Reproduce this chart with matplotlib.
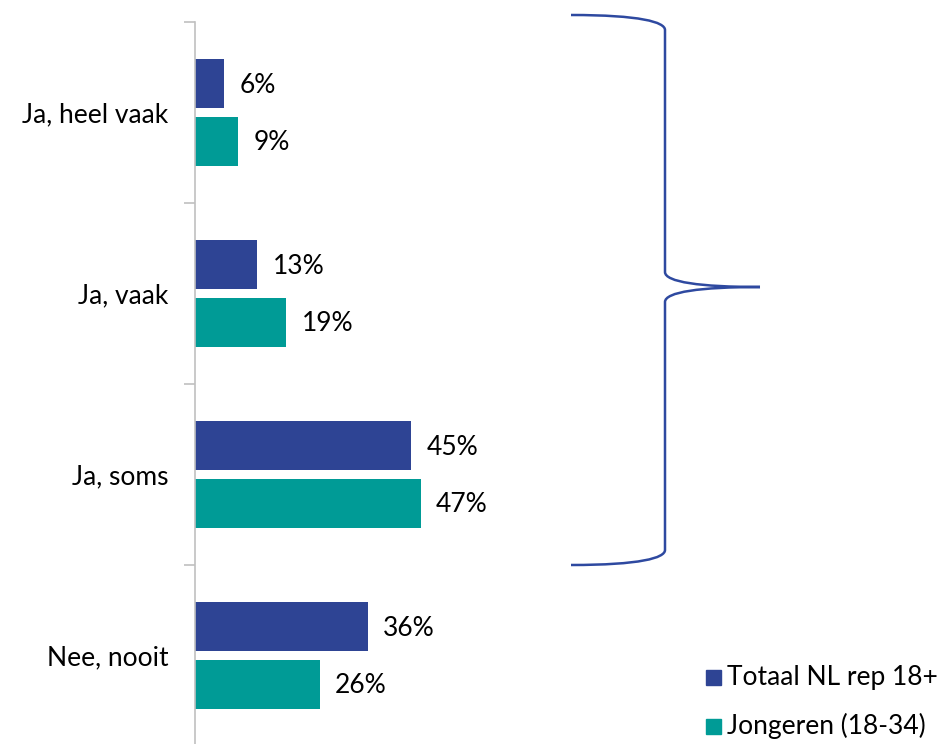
import numpy as np
import matplotlib.pyplot as plt
from matplotlib.path import Path
from matplotlib.patches import PathPatch, Rectangle

categories = ["Ja, heel vaak", "Ja, vaak", "Ja, soms", "Nee, nooit"]
totaal = [6, 13, 45, 36]
jongeren = [9, 19, 47, 26]
series_names = ["Totaal NL rep 18+", "Jongeren (18-34)"]

blue = "#2E4494"
teal = "#009B96"
plt.rcParams["font.family"] = ["Lato", "DejaVu Sans"]
fs = 19

W, H = 942, 744
fig = plt.figure(figsize=(W / 100, H / 100), dpi=100)
fig.patch.set_facecolor("white")

# main axes: left edge at x=195, top at y=22, reaches figure bottom
ax = fig.add_axes([195 / W, 0, (W - 195) / W, (H - 22) / H])
px_per_pct = 4.8

y = np.arange(len(categories))
h = 0.27
off = 0.158
ax.barh(y - off, totaal, height=h, color=blue)
ax.barh(y + off, jongeren, height=h, color=teal)

for i in range(len(categories)):
    ax.text(totaal[i] + 3.2, y[i] - off + 0.01, f"{totaal[i]}%", va="center", ha="left", fontsize=fs)
    ax.text(jongeren[i] + 3.2, y[i] + off + 0.01, f"{jongeren[i]}%", va="center", ha="left", fontsize=fs)

for s in ["top", "right", "bottom"]:
    ax.spines[s].set_visible(False)
ax.spines["left"].set_color("#C0C0C0")
ax.spines["left"].set_linewidth(1.2)
ax.set_xticks([])
ax.set_yticks(np.arange(-0.5, len(categories), 1.0), minor=False)
ax.set_yticklabels([])
ax.tick_params(axis="y", length=8, color="#C0C0C0", width=1.2)
ax.set_yticks(y, minor=True)
ax.set_yticklabels(categories, minor=True, fontsize=fs)
ax.tick_params(axis="y", which="minor", length=0, pad=19)

# limits last so tick setting does not widen them
ax.set_xlim(0, (W - 195) / px_per_pct)
span = (H - 22) / 181.0
ax.set_ylim(-0.5 + span, -0.5)

# overlay for brace and legend, in pixel coordinates
ov = fig.add_axes([0, 0, 1, 1])
ov.set_xlim(0, W)
ov.set_ylim(H, 0)
ov.axis("off")
ov.patch.set_alpha(0)

verts = [
    (571, 15), (640, 15), (665, 22), (665, 30),
    (665, 272),
    (665, 282), (700, 287), (760, 287),
    (700, 287), (665, 292), (665, 302),
    (665, 550),
    (665, 558), (640, 565), (571, 565),
]
codes = [Path.MOVETO, Path.CURVE4, Path.CURVE4, Path.CURVE4,
         Path.LINETO,
         Path.CURVE4, Path.CURVE4, Path.CURVE4,
         Path.CURVE4, Path.CURVE4, Path.CURVE4,
         Path.LINETO,
         Path.CURVE4, Path.CURVE4, Path.CURVE4]
ov.add_patch(PathPatch(Path(verts, codes), fill=False, edgecolor="#2E49A0", lw=1.8))

for name, col, yc in zip(series_names, [blue, teal], [677, 726]):
    ov.add_patch(Rectangle((706, yc - 7.5), 15, 15, color=col))
    ov.text(727, yc, name, va="center", ha="left", fontsize=fs)

fig.savefig("out.png", dpi=100)
